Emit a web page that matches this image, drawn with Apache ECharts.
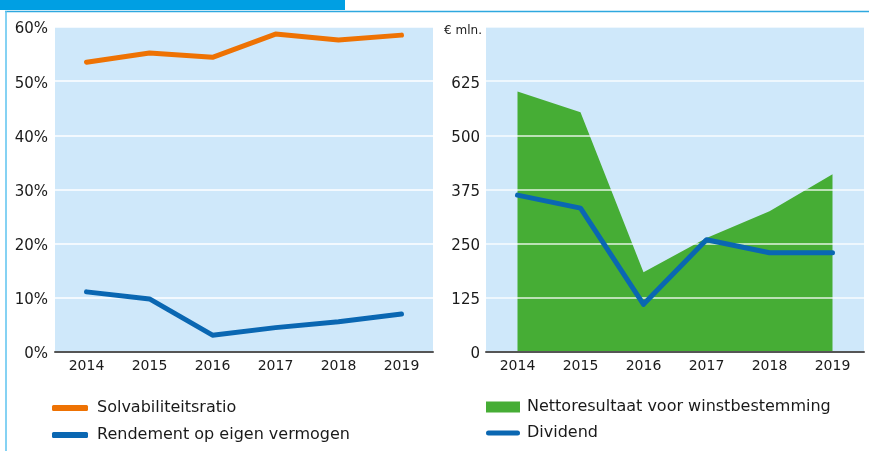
<!DOCTYPE html>
<html>
<head>
<meta charset="utf-8">
<script src="https://cdn.jsdelivr.net/npm/echarts@6/dist/echarts.min.js"></script>
<style>html,body{margin:0;padding:0;background:#fff}#c{width:869px;height:451px}</style>
</head>
<body>
<div id="c"></div>
<script>
var years = ['2014','2015','2016','2017','2018','2019'];
var solvabiliteit = [53.5, 55.2, 54.4, 58.7, 57.6, 58.5];
var rendement = [11.1, 9.8, 3.1, 4.5, 5.6, 7.0];
var nettoresultaat = [601, 553, 184, 263, 325, 410];
var dividend = [362, 332, 110, 259, 229, 229];
var leftTicks = [0, 10, 20, 30, 40, 50, 60];
var rightTicks = [0, 125, 250, 375, 500, 625];

var FONT = 'DejaVu Sans';
var TXT = '#1a1a1a';
var BG = '#cfe8fa';
var ORANGE = '#ee7203';
var BLUE = '#0a67b2';
var GREEN = '#46ad35';

var chart = echarts.init(document.getElementById('c'), null, {renderer: 'canvas'});
var option = {
  animation: false,
  textStyle: {fontFamily: FONT, color: TXT},
  graphic: [
    {type: 'rect', shape: {x: 0, y: 0, width: 345, height: 10}, style: {fill: '#009fe3'}, z: 10},
    {type: 'line', shape: {x1: 5, y1: 11.5, x2: 869, y2: 11.5}, style: {stroke: '#2ea8df', lineWidth: 1.5}, z: 10},
    {type: 'line', shape: {x1: 6, y1: 11, x2: 6, y2: 451}, style: {stroke: '#5cc3ef', lineWidth: 1.5}, z: 10}
  ],
  grid: [
    {left: 55, right: 436, top: 27, bottom: 99, show: true, backgroundColor: BG, borderWidth: 0},
    {left: 486, right: 5, top: 27, bottom: 99, show: true, backgroundColor: BG, borderWidth: 0}
  ],
  xAxis: [
    {gridIndex: 0, type: 'category', data: years, boundaryGap: true, z: 3,
     axisLine: {lineStyle: {color: '#555', width: 2}}, axisTick: {show: false},
     axisLabel: {color: TXT, fontSize: 14, fontFamily: FONT, margin: 7}},
    {gridIndex: 1, type: 'category', data: years, boundaryGap: true, z: 3,
     axisLine: {lineStyle: {color: '#555', width: 2}}, axisTick: {show: false},
     axisLabel: {color: TXT, fontSize: 14, fontFamily: FONT, margin: 7}}
  ],
  yAxis: [
    {gridIndex: 0, type: 'value', min: leftTicks[0], max: leftTicks[leftTicks.length - 1], interval: 10, z: 3,
     axisLine: {show: false}, axisTick: {show: false},
     splitLine: {lineStyle: {color: '#ffffff', width: 1.5}},
     axisLabel: {color: TXT, fontSize: 15, fontFamily: FONT, margin: 7, verticalAlign: 'top', lineHeight: 5,
       formatter: function (v) { return v + '%'; }}},
    {gridIndex: 1, type: 'value', min: rightTicks[0], max: 750, interval: 125, z: 3,
     name: '€ mln.', nameLocation: 'end', nameGap: -4,
     nameTextStyle: {color: TXT, fontSize: 12, fontFamily: FONT, align: 'right', verticalAlign: 'middle', padding: [0, 4, 0, 0]},
     axisLine: {show: false}, axisTick: {show: false},
     splitLine: {lineStyle: {color: 'rgba(255,255,255,0.85)', width: 1.5}},
     axisLabel: {color: TXT, fontSize: 15, fontFamily: FONT, margin: 6, verticalAlign: 'top', lineHeight: 5,
       formatter: function (v) { return rightTicks.indexOf(v) >= 0 ? String(v) : ''; }}}
  ],
  legend: [
    {orient: 'vertical', left: 52, top: 400, padding: 0, itemGap: 11, itemWidth: 36, itemHeight: 6, icon: 'roundRect',
     textStyle: {color: TXT, fontSize: 16, fontFamily: FONT, padding: [0, 0, 0, 4]},
     data: ['Solvabiliteitsratio', 'Rendement op eigen vermogen']},
    {orient: 'vertical', left: 486, top: 399, padding: 0, itemGap: 10, itemWidth: 34, itemHeight: 11,
     textStyle: {color: TXT, fontSize: 16, fontFamily: FONT, padding: [0, 0, 0, 2]},
     data: [{name: 'Nettoresultaat voor winstbestemming', icon: 'rect'},
            {name: 'Dividend', icon: 'path://M2.5,0 L31.5,0 A2.5,2.5 0 0 1 31.5,5 L2.5,5 A2.5,2.5 0 0 1 2.5,0 Z'}]}
  ],
  series: [
    {name: 'Solvabiliteitsratio', type: 'line', xAxisIndex: 0, yAxisIndex: 0, data: solvabiliteit,
     symbol: 'none', z: 5, color: ORANGE, lineStyle: {color: ORANGE, width: 5, cap: 'round', join: 'round'}},
    {name: 'Rendement op eigen vermogen', type: 'line', xAxisIndex: 0, yAxisIndex: 0, data: rendement,
     symbol: 'none', z: 5, color: BLUE, lineStyle: {color: BLUE, width: 5, cap: 'round', join: 'round'}},
    {name: 'Nettoresultaat voor winstbestemming', type: 'line', xAxisIndex: 1, yAxisIndex: 1, data: nettoresultaat,
     symbol: 'none', z: 2, color: GREEN, lineStyle: {width: 0, color: GREEN}, areaStyle: {color: GREEN, opacity: 1}},
    {name: 'Dividend', type: 'line', xAxisIndex: 1, yAxisIndex: 1, data: dividend,
     symbol: 'none', z: 5, color: BLUE, lineStyle: {color: BLUE, width: 5, cap: 'round', join: 'round'}}
  ]
};
chart.setOption(option);
</script>
</body>
</html>
